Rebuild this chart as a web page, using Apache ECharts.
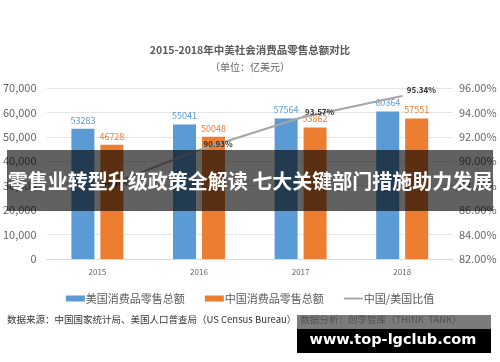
<!DOCTYPE html>
<html><head><meta charset="utf-8">
<script src="https://cdn.jsdelivr.net/npm/echarts@6/dist/echarts.min.js"></script>
<style>html,body{margin:0;padding:0;background:#fff}#c{width:500px;height:362px}</style>
</head><body><div id="c"></div>
<script>
const categories = ['2015', '2016', '2017', '2018'];
const usSales = [53283, 55041, 57564, 60364];
const cnSales = [46728, 50048, 53862, 57551];
const ratioPct = [87.70, 90.93, 93.57, 95.34];
const seriesNames = ['美国消费品零售总额', '中国消费品零售总额', '中国/美国比值'];
const titleText = '2015-2018年中美社会消费品零售总额对比';
const subText = '（单位：亿美元）';
const sourceText = '数据来源：中国国家统计局、美国人口普查局（US Census Bureau）  数据分析：创孪智库（THINK  TANK）';
const bannerText = '零售业转型升级政策全解读 七大关键部门措施助力发展';
const watermarkText = 'www.top-lgclub.com';

const FF = '"Noto Sans CJK SC", "Noto Sans", sans-serif';
const chart = echarts.init(document.getElementById('c'));
chart.setOption({
  animation: false,
  textStyle: { fontFamily: FF },
  title: {
    text: titleText, subtext: subText, left: 'center', top: 40, itemGap: 7,
    textStyle: { fontSize: 10.5, fontWeight: 'bold', color: '#595959', fontFamily: FF },
    subtextStyle: { fontSize: 10, color: '#666', fontFamily: FF }
  },
  legend: {
    top: 288, left: 'center', itemWidth: 19, itemHeight: 6, itemGap: 20,
    textStyle: { fontSize: 11, color: '#595959', fontFamily: FF, padding: [0, 0, 0, -4] },
    data: [
      { name: seriesNames[0], icon: 'rect' },
      { name: seriesNames[1], icon: 'rect' },
      { name: seriesNames[2], icon: 'path://M0,0L20,0L20,2L0,2Z' }
    ]
  },
  grid: { left: 45, right: 47, top: 88, bottom: 103 },
  xAxis: {
    type: 'category', data: categories,
    axisTick: { show: false },
    axisLine: { lineStyle: { color: '#d9d9d9' } },
    axisLabel: { fontSize: 8, color: '#666', margin: 9 }
  },
  yAxis: [
    { type: 'value', min: 0, max: 70000, interval: 10000,
      axisLabel: { fontSize: 11, color: '#666', margin: 10 },
      splitLine: { lineStyle: { color: '#e6e6e6' } }, axisLine: { show: false } },
    { type: 'value', min: 82, max: 96, interval: 2,
      axisLabel: { fontSize: 11, color: '#666', margin: 6, formatter: v => v.toFixed(2) + '%' },
      splitLine: { show: false }, axisLine: { show: false } }
  ],
  series: [
    { name: seriesNames[0], type: 'bar', data: usSales, barWidth: 23, barGap: '26%',
      itemStyle: { color: '#5b9bd5' },
      label: { show: true, position: 'top', distance: 4, fontSize: 9, color: '#5b9bd5' } },
    { name: seriesNames[1], type: 'bar', data: cnSales, barWidth: 23,
      itemStyle: { color: '#ed7d31' },
      label: { show: true, position: 'top', distance: 4, fontSize: 9, color: '#ed7d31' } },
    { name: seriesNames[2], type: 'line', yAxisIndex: 1, data: ratioPct,
      symbol: 'circle', symbolSize: 1, showSymbol: true,
      lineStyle: { color: '#a5a5a5', width: 2 }, itemStyle: { color: '#a5a5a5' },
      label: { show: true, position: 'right', distance: 4, offset: [0, -6], fontSize: 8, fontWeight: 'bold', color: '#333',
        formatter: p => p.value.toFixed(2) + '%' } }
  ],
  graphic: [
    { type: 'text', left: 7, top: 315, z: 10,
      style: { text: sourceText, fontSize: 9.5, fill: '#333', fontFamily: FF } },
    { type: 'rect', shape: { x: 7, y: 150, width: 486, height: 61 }, z: 100,
      style: { fill: 'rgba(0,0,0,0.62)' } },
    { type: 'text', x: 250, y: 181, z: 101,
      style: { text: bannerText, fontSize: 20, fontWeight: 'bold', fill: '#fff', fontFamily: FF,
        align: 'center', verticalAlign: 'middle' } },
    { type: 'rect', shape: { x: 297, y: 315, width: 194, height: 14 }, z: 100,
      style: { fill: 'rgba(90,90,90,0.8)' } },
    { type: 'rect', shape: { x: 297, y: 329, width: 194, height: 24 }, z: 100,
      style: { fill: '#000' } },
    { type: 'text', x: 393, y: 340, z: 101,
      style: { text: watermarkText, fontSize: 14.5, fontWeight: 'bold', fill: '#fff',
        fontFamily: '"DejaVu Sans", sans-serif', align: 'center', verticalAlign: 'middle' } }
  ]
});
</script></body></html>
